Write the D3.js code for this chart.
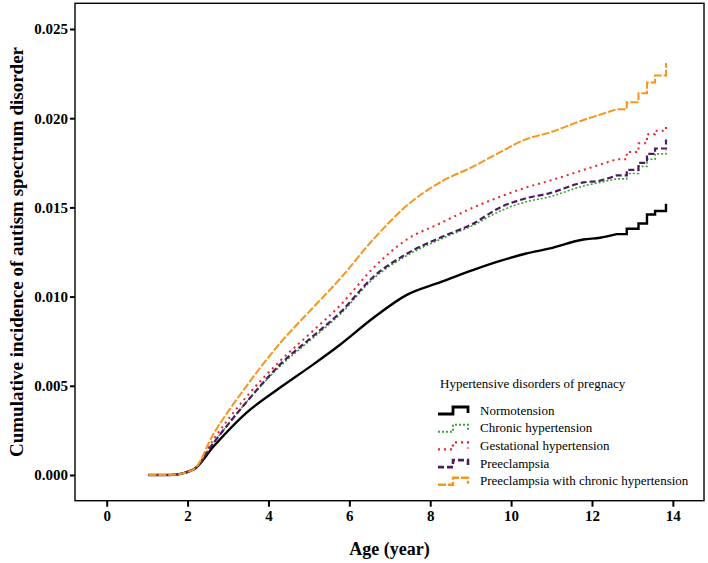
<!DOCTYPE html>
<html>
<head>
<meta charset="utf-8">
<script src="https://cdn.jsdelivr.net/npm/d3@7.9.0/dist/d3.min.js"></script>
<style>
  body { margin: 0; background: #fff; }
  svg { display: block; font-family: "Liberation Serif", "Times New Roman", serif; }
</style>
</head>
<body>
<svg width="708" height="563"></svg>
<script>
// ages (years) for the smooth part of each curve
const ages = [1.03, 1.57, 2.14, 2.64, 3.46, 4.29, 5.11, 5.77, 6.59, 7.42, 8.24, 9.07, 9.73, 10.35, 10.96, 11.79, 12.2, 12.61];
const normotension = [0, 0, 0.0003, 0.0016, 0.0035, 0.0049, 0.0062, 0.0073, 0.0088, 0.0101, 0.0108, 0.0115, 0.0120, 0.0124, 0.0127, 0.0132, 0.0133, 0.0135];
const chronicHtn   = [0, 0, 0.0003, 0.0018, 0.0041, 0.0061, 0.0077, 0.0090, 0.0110, 0.0123, 0.0132, 0.0140, 0.0148, 0.0153, 0.0156, 0.0162, 0.0164, 0.0166];
const gestational  = [0, 0, 0.0003, 0.0020, 0.0044, 0.0064, 0.0081, 0.0095, 0.0116, 0.0132, 0.0141, 0.0150, 0.0156, 0.0161, 0.0165, 0.0171, 0.0174, 0.0177];
const preeclampsia = [0, 0, 0.0003, 0.0018, 0.0041, 0.0062, 0.0078, 0.0091, 0.0111, 0.0124, 0.0133, 0.0141, 0.0150, 0.0155, 0.0158, 0.0164, 0.0165, 0.0168];
const preeclChronic = [0, 0, 0.0003, 0.0023, 0.0050, 0.0074, 0.0094, 0.0110, 0.0132, 0.0151, 0.0164, 0.0173, 0.0181, 0.0188, 0.0192, 0.0199, 0.0202, 0.0205];

// stepped tail at the end of follow-up
const tailAges = [12.61, 12.86, 13.15, 13.36, 13.56, 13.83, 13.83];
const normotensionTail  = [0.0135, 0.0138, 0.0141, 0.0146, 0.0148, 0.0148, 0.0152];
const chronicHtnTail    = [0.0166, 0.0169, 0.0173, 0.0177, 0.0180, 0.0180, 0.0182];
const gestationalTail   = [0.0177, 0.0181, 0.0186, 0.0191, 0.0193, 0.0193, 0.0197];
const preeclampsiaTail  = [0.0168, 0.0171, 0.0175, 0.0180, 0.0183, 0.0183, 0.0188];
const preeclChronicTail = [0.0205, 0.0209, 0.0214, 0.0220, 0.0224, 0.0224, 0.0231];

const seriesNames = ["Normotension", "Chronic hypertension", "Gestational hypertension", "Preeclampsia", "Preeclampsia with chronic hypertension"];
const xTicks = [0, 2, 4, 6, 8, 10, 12, 14];
const yTicks = [0, 0.005, 0.010, 0.015, 0.020, 0.025];

const styles = [
  { color: "#000000", dash: null,  width: 2.4 },
  { color: "#3aa23a", dash: "2,2", width: 1.6 },
  { color: "#e4262c", dash: "2,4", width: 2 },
  { color: "#4e1c60", dash: "6,3", width: 2.2 },
  { color: "#f5961f", dash: "8,2", width: 2 }
];

const bodies = [normotension, chronicHtn, gestational, preeclampsia, preeclChronic];
const tails = [normotensionTail, chronicHtnTail, gestationalTail, preeclampsiaTail, preeclChronicTail];

const series = seriesNames.map((name, i) => ({
  name,
  body: ages.map((a, j) => [a, bodies[i][j]]),
  tail: tailAges.map((a, j) => [a, tails[i][j]]),
  ...styles[i]
}));

const svg = d3.select("svg");
const m = { left: 75, right: 704, top: 3.3, bottom: 500.7 };

const x = d3.scaleLinear().domain([-0.784, 14.77]).range([m.left, m.right]);
const y = d3.scaleLinear().domain([-0.00144, 0.02644]).range([m.bottom, m.top]);

const bodyLine = d3.line().x(d => x(d[0])).y(d => y(d[1])).curve(d3.curveMonotoneX);
const tailLine = d3.line().x(d => x(d[0])).y(d => y(d[1])).curve(d3.curveStepAfter);

// curves: black, green, red, purple, orange (purple sits over green)
series.forEach(s => {
  const d = bodyLine(s.body) + tailLine(s.tail).replace(/^M/, "L");
  svg.append("path")
    .attr("d", d)
    .attr("fill", "none")
    .attr("stroke", s.color)
    .attr("stroke-width", s.width)
    .attr("stroke-dasharray", s.dash)
    .attr("stroke-linejoin", "miter");
});

// axes
const yAxis = svg.append("g")
  .attr("transform", `translate(${m.left},0)`)
  .call(d3.axisLeft(y).tickValues(yTicks).tickFormat(d3.format(".3f")).tickSize(5).tickPadding(2));
const xAxis = svg.append("g")
  .attr("transform", `translate(0,${m.bottom})`)
  .call(d3.axisBottom(x).tickValues(xTicks).tickSize(6).tickPadding(4));

[yAxis, xAxis].forEach(g => {
  g.select(".domain").remove();
  g.selectAll("line").attr("stroke", "#000").attr("stroke-width", 2);
  g.selectAll("text")
    .attr("fill", "#000")
    .style("font-family", '"Liberation Serif", "Times New Roman", serif')
    .style("font-weight", "bold")
    .style("font-size", "15px");
});

// panel border
svg.append("rect")
  .attr("x", m.left).attr("y", m.top)
  .attr("width", m.right - m.left).attr("height", m.bottom - m.top)
  .attr("fill", "none").attr("stroke", "#000").attr("stroke-width", 1.4);

// axis titles
svg.append("text")
  .attr("x", (m.left + m.right) / 2).attr("y", 555)
  .attr("text-anchor", "middle")
  .style("font-weight", "bold").style("font-size", "18px")
  .text("Age (year)");

svg.append("text")
  .attr("transform", `translate(23,${(m.top + m.bottom) / 2}) rotate(-90)`)
  .attr("text-anchor", "middle")
  .style("font-weight", "bold").style("font-size", "19px")
  .text("Cumulative incidence of autism spectrum disorder");

// legend
const legend = svg.append("g").attr("transform", "translate(438,0)");
legend.append("text")
  .attr("x", 2).attr("y", 388)
  .style("font-size", "13px")
  .text("Hypertensive disorders of pregnacy");

series.forEach((s, i) => {
  const cy = 410 + i * 17.7;
  legend.append("path")
    .attr("d", `M0,${cy + 4}H15V${cy - 3}H30V${cy + 3}`)
    .attr("fill", "none")
    .attr("stroke", s.color)
    .attr("stroke-width", s.width + 0.4)
    .attr("stroke-dasharray", s.dash);
  legend.append("text")
    .attr("x", 42).attr("y", cy + 4.5)
    .style("font-size", "13px")
    .text(s.name);
});
</script>
</body>
</html>
